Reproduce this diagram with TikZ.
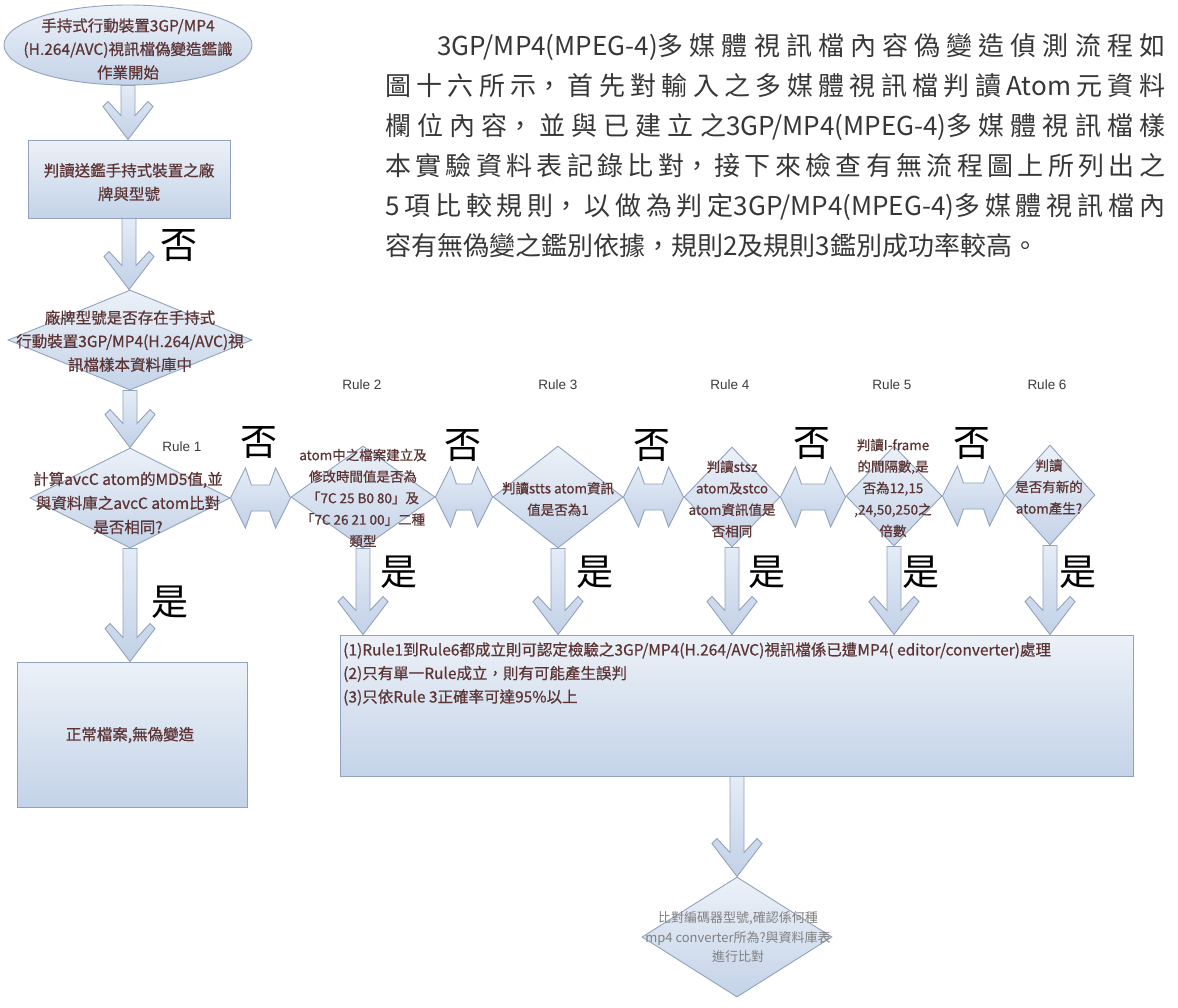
\documentclass[tikz,border=0pt]{standalone}
\usepackage{fontspec}
\newfontfamily\cjk{Noto Sans CJK TC}
\newfontfamily\cjkd[FakeBold=0.6]{Noto Sans CJK TC}
\newfontfamily\lsans{Liberation Sans}
\usetikzlibrary{shapes.geometric,calc}
\definecolor{fillT}{RGB}{236,241,248}
\definecolor{fillB}{RGB}{196,211,232}
\definecolor{edgec}{RGB}{146,162,188}
\definecolor{arrT}{RGB}{228,236,246}
\definecolor{arrB}{RGB}{194,209,231}
\definecolor{txtc}{RGB}{92,52,52}
\definecolor{paratxt}{RGB}{55,55,55}
\definecolor{graytxt}{RGB}{128,128,128}
\definecolor{rulec}{RGB}{60,60,60}
\tikzset{
  shp/.style={draw=edgec, line width=0.9pt, top color=fillT, bottom color=fillB, inner sep=0pt},
  dtext/.style={text=txtc, font=\cjkd\fontsize{15.5}{23.5}\selectfont, align=center, inner sep=0pt},
  rtext/.style={text=txtc, font=\cjkd\fontsize{13.5}{21.5}\selectfont, align=center, inner sep=0pt},
  yesno/.style={font=\cjk\fontsize{37}{37}\selectfont, text=black, inner sep=0pt},
  rulelbl/.style={font=\lsans\fontsize{13.5}{15}\selectfont, text=rulec, inner sep=0pt},
  blk/.style={draw=edgec, line width=0.9pt, top color=arrT, bottom color=arrB},
}
\newcommand\vblk[2]{%
  \path[blk] let \p1=(#1), \p2=(#2) in
    (\x1-7pt,\y1) -- (\x1-7pt,\y2+24pt) -- (\x1-20pt,\y2+38pt) -- (\x1-25pt,\y2+33pt)
    -- (\x1,\y2) -- (\x1+25pt,\y2+33pt) -- (\x1+20pt,\y2+38pt) -- (\x1+7pt,\y2+24pt)
    -- (\x1+7pt,\y1) -- cycle;}
\newcommand\hblk[2]{%
  \path[blk] let \p1=(#1), \p2=(#2) in
    (\x1,\y1) -- (\x1+15pt,\y1+30pt) -- (\x1+21pt,\y1+13pt) -- (\x2-21pt,\y1+13pt)
    -- (\x2-15pt,\y1+30pt) -- (\x2,\y1) -- (\x2-15pt,\y1-30pt) -- (\x2-21pt,\y1-13pt)
    -- (\x1+21pt,\y1-13pt) -- (\x1+15pt,\y1-30pt) -- cycle;}
\newcommand\lat[1]{{\XeTeXlinebreakskip=0pt #1}}
\begin{document}
\begin{tikzpicture}[x=1pt,y=-1pt]
\useasboundingbox (0,0) rectangle (1178,1007);
\fill[white] (0,0) rectangle (1178,1007);

% ---------- paragraph ----------
\node[anchor=base west, inner sep=0pt, text=paratxt, font=\cjk\fontsize{26}{40}\selectfont] (para) at (385,55)
{\begin{minipage}[t]{780pt}\XeTeXlinebreaklocale "zh"\XeTeXlinebreakskip=0pt plus 8pt minus 0.5pt%
\hspace*{2em}\lat{3GP/MP4(MPEG-4)}多媒體視訊檔內容偽變造偵測流程如\linebreak
圖十六所示，首先對輸入之多媒體視訊檔判讀Atom元資料\linebreak
欄位內容，並與已建立之\lat{3GP/MP4(MPEG-4)}多媒體視訊檔樣\linebreak
本實驗資料表記錄比對，接下來檢查有無流程圖上所列出之\linebreak
5項比較規則，以做為判定\lat{3GP/MP4(MPEG-4)}多媒體視訊檔內\linebreak
容有無偽變之鑑別依據，規則2及規則3鑑別成功率較高。\end{minipage}};

% ---------- shapes ----------
\node[shp, ellipse, minimum width=248pt, minimum height=80pt] (e0) at (128,45) {};
\node[shp, rectangle, minimum width=202pt, minimum height=78pt] (r1) at (129,179) {};
\node[shp, diamond, minimum width=244pt, minimum height=100pt] (d2) at (130,340) {};
\node[shp, diamond, minimum width=200pt, minimum height=100pt] (d3) at (130,498) {};
\node[shp, rectangle, minimum width=230pt, minimum height=145pt] (r4) at (132,734.5) {};
\node[shp, diamond, minimum width=144pt, minimum height=102pt] (R2) at (363,497) {};
\node[shp, diamond, minimum width=130pt, minimum height=102pt] (R3) at (558,497) {};
\node[shp, diamond, minimum width=96pt, minimum height=100pt] (R4) at (732,497) {};
\node[shp, diamond, minimum width=96pt, minimum height=100pt] (R5) at (894,496) {};
\node[shp, diamond, minimum width=90pt, minimum height=100pt] (R6) at (1050,495) {};
\node[shp, rectangle, minimum width=793pt, minimum height=141pt] (B) at (736.5,705.5) {};
\node[shp, diamond, minimum width=190pt, minimum height=120pt] (D7) at (737,937) {};

% ---------- connectors ----------
\vblk{e0.south}{r1.north}
\vblk{r1.south}{d2.north}
\vblk{d2.south}{d3.north}
\vblk{d3.south}{r4.north}
\hblk{d3.east}{R2.west}
\hblk{R2.east}{R3.west}
\hblk{R3.east}{R4.west}
\hblk{R4.east}{R5.west}
\hblk{R5.east}{R6.west}
\vblk{R2.south}{R2.south |- B.north}
\vblk{R3.south}{R3.south |- B.north}
\vblk{R4.south}{R4.south |- B.north}
\vblk{R5.south}{R5.south |- B.north}
\vblk{R6.south}{R6.south |- B.north}
\vblk{B.south -| D7.north}{D7.north}

% ---------- texts ----------
\node[dtext] (te0) at (128,49) {手持式行動裝置3GP/MP4\\(H.264/AVC)視訊檔偽變造鑑識\\作業開始};
\node[dtext] (tr1) at (129,182) {判讀送鑑手持式裝置之廠\\牌與型號};
\node[dtext] (td2) at (130,341) {廠牌型號是否存在手持式\\行動裝置3GP/MP4(H.264/AVC)視\\訊檔樣本資料庫中};
\node[dtext, font=\cjkd\fontsize{15.5}{24}\selectfont] (td3) at (128,503) {計算avcC atom的MD5值,並\\與資料庫之avcC atom比對\\是否相同?};
\node[dtext] (tr4) at (130,735) {正常檔案,無偽變造};
\node[rtext] (tR2) at (363,498) {atom中之檔案建立及\\修改時間值是否為\\「7C 25 B0 80」及\\「7C 26 21 00」二種\\類型};
\node[rtext] (tR3) at (558,499) {判讀stts atom資訊\\值是否為1};
\node[rtext] (tR4) at (732,499) {判讀stsz\\atom及stco\\atom資訊值是\\否相同};
\node[rtext] (tR5) at (893,488) {判讀I-frame\\的間隔數,是\\否為12,15\\,24,50,250之\\倍數};
\node[rtext] (tR6) at (1049,487) {判讀\\是否有新的\\atom產生?};
\node[dtext, align=left, anchor=north west] (tB) at (343,642)
  {(1)Rule1到Rule6都成立則可認定檢驗之3GP/MP4(H.264/AVC)視訊檔係已遭MP4( editor/converter)處理\\(2)只有單一Rule成立，則有可能產生誤判\\(3)只依Rule 3正確率可達95\%以上};
\node[text=graytxt, font=\cjk\fontsize{13}{19.5}\selectfont, align=center, inner sep=0pt] (tD7) at (738,937)
  {比對編碼器型號,確認係何種\\mp4 converter所為?與資料庫表\\進行比對};

% ---------- rule labels ----------
\node[rulelbl] (l1) at (182,447) {Rule 1};
\node[rulelbl] (l2) at (362,385) {Rule 2};
\node[rulelbl] (l3) at (558,385) {Rule 3};
\node[rulelbl] (l4) at (730,385) {Rule 4};
\node[rulelbl] (l5) at (892,385) {Rule 5};
\node[rulelbl] (l6) at (1047,385) {Rule 6};

% ---------- yes / no ----------
\node[yesno] (n1) at (179,245) {否};
\node[yesno] (n2) at (259,442) {否};
\node[yesno] (n3) at (463,445) {否};
\node[yesno] (n4) at (652,445) {否};
\node[yesno] (n5) at (812,443) {否};
\node[yesno] (n6) at (972,443) {否};
\node[yesno] (y1) at (170,602) {是};
\node[yesno] (y2) at (399,572) {是};
\node[yesno] (y3) at (595,572) {是};
\node[yesno] (y4) at (767,572) {是};
\node[yesno] (y5) at (921,572) {是};
\node[yesno] (y6) at (1078,572) {是};
\end{tikzpicture}
\end{document}
